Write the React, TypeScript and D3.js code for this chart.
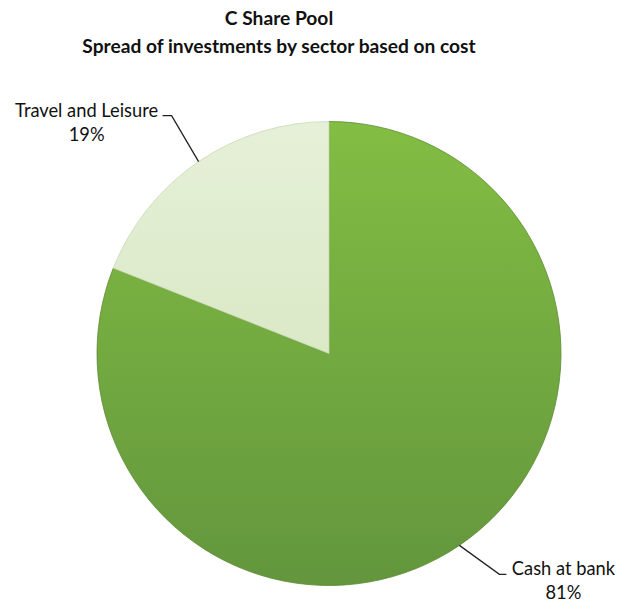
import React from "react";
import * as d3 from "d3";

const categories = ["Cash at bank", "Travel and Leisure"];
const values = [81, 19];
const titleLines = ["C Share Pool", "Spread of investments by sector based on cost"];

const W = 617;
const H = 608;
const cx = 329;
const cy = 353.5;
const R = 232;

export default function App() {
  const pie = d3.pie<number>().sort(null).value((d) => d)(values);
  const arc = d3.arc<d3.PieArcDatum<number>>().innerRadius(0).outerRadius(R);
  const fills = ["url(#gDark)", "url(#gLight)"];
  const font = "Lato, 'Open Sans', sans-serif";

  // label layout per slice: leader elbow offsets, horizontal tick, text half-width
  const labelCfg = [
    { ex: 40, ey: 29, hx: 7, dir: 1, half: 53 },
    { ex: -27, ey: -46, hx: -9, dir: -1, half: 72 },
  ];

  return (
    <svg width={W} height={H} style={{ position: "absolute", left: 0, top: 0 }} fontFamily={font}>
      <defs>
        <linearGradient id="gDark" x1="0" y1="0" x2="0" y2="1">
          <stop offset="0%" stopColor="#83bd43" />
          <stop offset="100%" stopColor="#63963d" />
        </linearGradient>
        <linearGradient id="gLight" x1="0" y1="0" x2="0" y2="1">
          <stop offset="0%" stopColor="#e6f0d8" />
          <stop offset="100%" stopColor="#dae9c6" />
        </linearGradient>
      </defs>
      <rect width={W} height={H} fill="#ffffff" />
      {titleLines.map((t, i) => (
        <text key={i} x={279} y={25 + i * 28} textAnchor="middle" fontWeight="bold" fontSize={19.2} fill="#111">
          {t}
        </text>
      ))}
      <g transform={`translate(${cx},${cy})`}>
        {pie.map((p, i) => (
          <path key={i} d={arc(p) || ""} fill={fills[i]} stroke={i === 0 ? "#5c8a34" : "#c9d9b4"} strokeWidth={1} strokeOpacity={0.8} />
        ))}
        {pie.map((p, i) => {
          const mid = (p.startAngle + p.endAngle) / 2;
          const x0 = R * Math.sin(mid);
          const y0 = -R * Math.cos(mid);
          const c = labelCfg[i];
          const x1 = x0 + c.ex;
          const y1 = y0 + c.ey;
          const x2 = x1 + c.hx;
          const centerX = x2 + c.dir * (4 + c.half);
          const pct = Math.round((values[i] / d3.sum(values)) * 100) + "%";
          return (
            <g key={"l" + i}>
              <path d={`M${x0},${y0}L${x1},${y1}L${x2},${y1}`} fill="none" stroke="#222" strokeWidth={1.3} />
              <text x={centerX} y={y1 + 1} textAnchor="middle" fontSize={18.3} fill="#111">
                {categories[i]}
              </text>
              <text x={centerX} y={y1 + 25} textAnchor="middle" fontSize={18.3} fill="#111">
                {pct}
              </text>
            </g>
          );
        })}
      </g>
    </svg>
  );
}
